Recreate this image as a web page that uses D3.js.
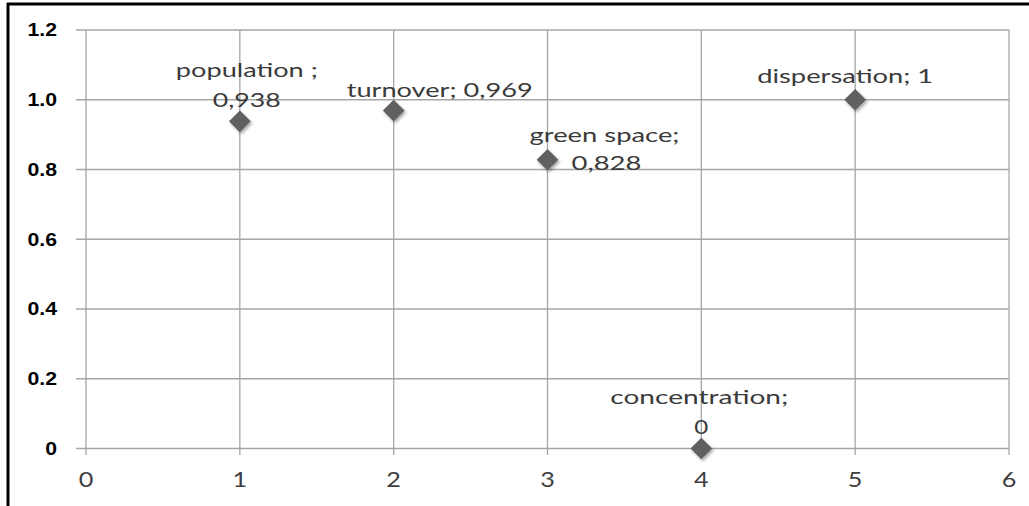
<!DOCTYPE html>
<html><head><meta charset="utf-8">
<script src="https://cdn.jsdelivr.net/npm/d3@7"></script>
<style>body{margin:0;background:#fff;} svg{display:block;}</style>
</head><body>
<svg id="chart" width="1029" height="506"></svg>
<script>
const names = ["population", "turnover", "green space", "concentration", "dispersation"];
const xValues = [1, 2, 3, 4, 5];
const yValues = [0.938, 0.969, 0.828, 0, 1];
const labelLines = [["population ;", "0,938"], ["turnover; 0,969"], ["green space;", "0,828"], ["concentration;", "0"], ["dispersation; 1"]];
const xTicks = [0, 1, 2, 3, 4, 5, 6];
const yTicks = [0, 0.2, 0.4, 0.6, 0.8, 1.0, 1.2];
const yTickLabels = ["0", "0.2", "0.4", "0.6", "0.8", "1.0", "1.2"];

const svg = d3.select("#chart");
const defs = svg.append("defs");
const f = defs.append("filter").attr("id","sh").attr("x","-50%").attr("y","-50%").attr("width","200%").attr("height","200%");
f.append("feDropShadow").attr("dx",1.5).attr("dy",2).attr("stdDeviation",1.8).attr("flood-color","#000").attr("flood-opacity",0.35);

const x = d3.scaleLinear().domain([0, 6]).range([86, 1009]);
const y = d3.scaleLinear().domain([0, 1.2]).range([448.5, 30]);

// frame
svg.append("line").attr("x1",7).attr("x2",1029).attr("y1",4).attr("y2",4).attr("stroke","#000").attr("stroke-width",3);
svg.append("line").attr("x1",8).attr("x2",8).attr("y1",3).attr("y2",506).attr("stroke","#000").attr("stroke-width",3);

// grid
const grid = svg.append("g").attr("stroke","#a6a6a6").attr("stroke-width",1.3);
grid.selectAll("line.h").data(yTicks).join("line")
  .attr("x1",76).attr("x2",x(6)).attr("y1",d=>y(d)).attr("y2",d=>y(d));
grid.selectAll("line.v").data(xTicks).join("line")
  .attr("x1",d=>x(d)).attr("x2",d=>x(d)).attr("y1",y(1.2)).attr("y2",455);

// y labels (horizontally stretched like the reference)
svg.append("g").selectAll("text").data(yTicks).join("text")
  .attr("x",57).attr("y",d=>y(d)).attr("dy","0.36em")
  .attr("text-anchor","end").attr("font-family","Liberation Sans, Arial, sans-serif")
  .attr("font-weight","bold").attr("font-size",18).attr("fill","#000")
  .text((d,i)=>yTickLabels[i])
  .each(function(){ const w=this.getComputedTextLength(); d3.select(this).attr("textLength", w*1.18).attr("lengthAdjust","spacingAndGlyphs"); });

// x labels
svg.append("g").selectAll("text").data(xTicks).join("text")
  .attr("x",d=>x(d)).attr("y",487)
  .attr("text-anchor","middle").attr("font-family","Lato, Open Sans, sans-serif")
  .attr("font-size",21).attr("fill","#404040")
  .text(d=>d)
  .each(function(){ const w=this.getComputedTextLength(); d3.select(this).attr("textLength", w*1.2).attr("lengthAdjust","spacingAndGlyphs"); });

// points
const sym = d3.symbol().type(d3.symbolDiamond2).size(300);
svg.append("g").selectAll("path").data(xValues).join("path")
  .attr("d", sym)
  .attr("transform",(d,i)=>`translate(${x(d)},${y(yValues[i])})`)
  .attr("fill","#616161").attr("filter","url(#sh)");

// data labels (positions relative to points)
const labelOffsets = [
  [[7,-44],[7,-14]],
  [[46,-14]],
  [[57,-18],[59,10]],
  [[-2,-45],[0,-15]],
  [[-10,-17]]
];
const labelWidths = [[142,68],[186],[150,70],[178,14],[176]];
const lg = svg.append("g").attr("font-family","Lato, Open Sans, sans-serif").attr("font-size",20).attr("fill","#3a3a3a");
labelLines.forEach((lines,i)=>{
  lines.forEach((t,j)=>{
    lg.append("text")
      .attr("x", x(xValues[i]) + labelOffsets[i][j][0])
      .attr("y", y(yValues[i]) + labelOffsets[i][j][1])
      .attr("text-anchor","middle")
      .attr("textLength", labelWidths[i][j]).attr("lengthAdjust","spacingAndGlyphs")
      .text(t);
  });
});
</script>
</body></html>
